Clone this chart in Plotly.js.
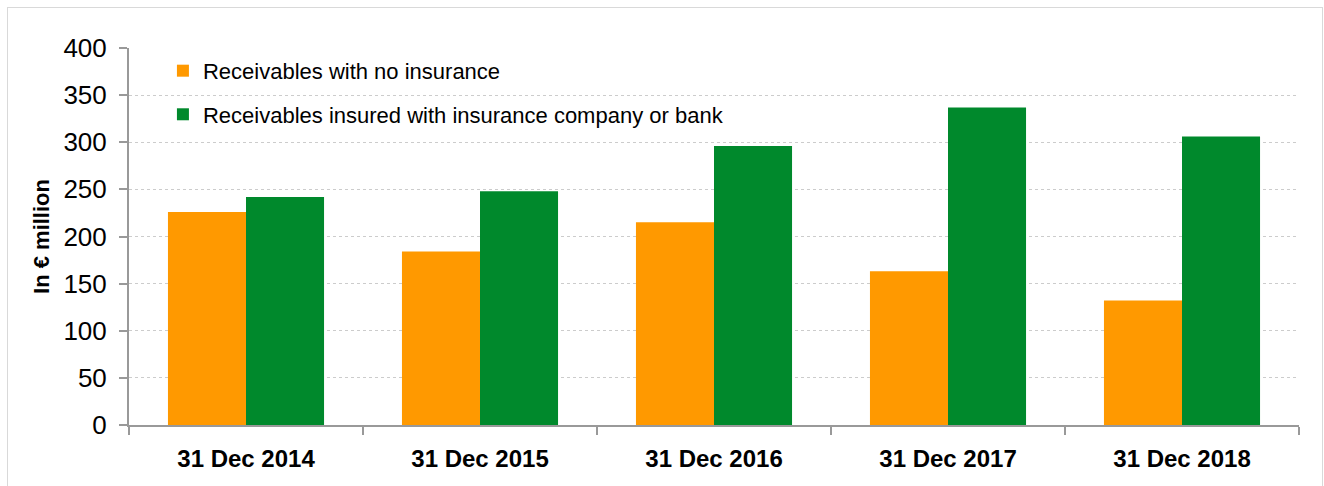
<!DOCTYPE html>
<html>
<head>
<meta charset="utf-8">
<script src="https://cdn.plot.ly/plotly-3.0.1.min.js"></script>
<style>
  html, body { margin: 0; padding: 0; background: #fff; }
  #wrap { position: relative; width: 1324px; height: 486px; }
  #chart { width: 1324px; height: 486px; }
  #frame { position: absolute; left: 7px; top: 7px; width: 1316px; height: 490px;
           border: 1px solid #d9d9d9; pointer-events: none; box-sizing: border-box; }
</style>
</head>
<body>
<div id="wrap">
  <div id="chart"></div>
  <div id="frame"></div>
</div>
<script>
const categories = ["31 Dec 2014", "31 Dec 2015", "31 Dec 2016", "31 Dec 2017", "31 Dec 2018"];
const noInsurance = [226, 184, 215, 163, 132];
const insured = [242, 248, 296, 337, 306];
const seriesNames = ["Receivables with no insurance", "Receivables insured with insurance company or bank"];
const yTickVals = [0, 50, 100, 150, 200, 250, 300, 350, 400];

const FONT = '"Liberation Sans", Arial, sans-serif';

const traces = [
  { type: 'bar', x: categories, y: noInsurance, name: seriesNames[0],
    marker: { color: '#FF9900' }, legendgroup: 'a', hoverinfo: 'y' },
  { type: 'bar', x: categories, y: insured, name: seriesNames[1],
    marker: { color: '#00892C' }, legendgroup: 'b', hoverinfo: 'y' }
];

const layout = {
  width: 1324, height: 486,
  margin: { l: 129, r: 25, t: 48, b: 61, pad: 0 },
  paper_bgcolor: '#fff', plot_bgcolor: '#fff',
  font: { family: FONT, color: '#000', size: 22 },
  barmode: 'group', bargap: 0.333, bargroupgap: 0,
  showlegend: true,
  legend: { x: 0.029, y: 0.995, xanchor: 'left', yanchor: 'top',
            font: { family: FONT, size: 22, color: '#000' },
            bgcolor: 'rgba(0,0,0,0)', traceorder: 'grouped', tracegroupgap: 12 },
  xaxis: {
    type: 'category',
    showline: true, linecolor: '#999', linewidth: 2,
    ticks: 'outside', tickson: 'boundaries', ticklen: 8, tickcolor: '#999', tickwidth: 2,
    showgrid: false, zeroline: false,
    tickfont: { family: FONT, size: 24, color: '#000', weight: 'bold' },
    ticklabelstandoff: 11
  },
  yaxis: {
    range: [0, 400], tickvals: yTickVals, ticktext: yTickVals.map(String),
    showline: true, linecolor: '#999', linewidth: 2,
    ticks: 'outside', ticklen: 8, tickcolor: '#999', tickwidth: 2,
    showgrid: true, gridcolor: '#cccccc', gridwidth: 1, griddash: 'dot',
    zeroline: false,
    tickfont: { family: FONT, size: 26, color: '#000' },
    ticklabelstandoff: 7,
    title: { text: 'In € million', font: { family: FONT, size: 22, color: '#000', weight: 'bold' }, standoff: 8 }
  }
};

Plotly.newPlot('chart', traces, layout, { displayModeBar: false, staticPlot: true });
</script>
</body>
</html>
